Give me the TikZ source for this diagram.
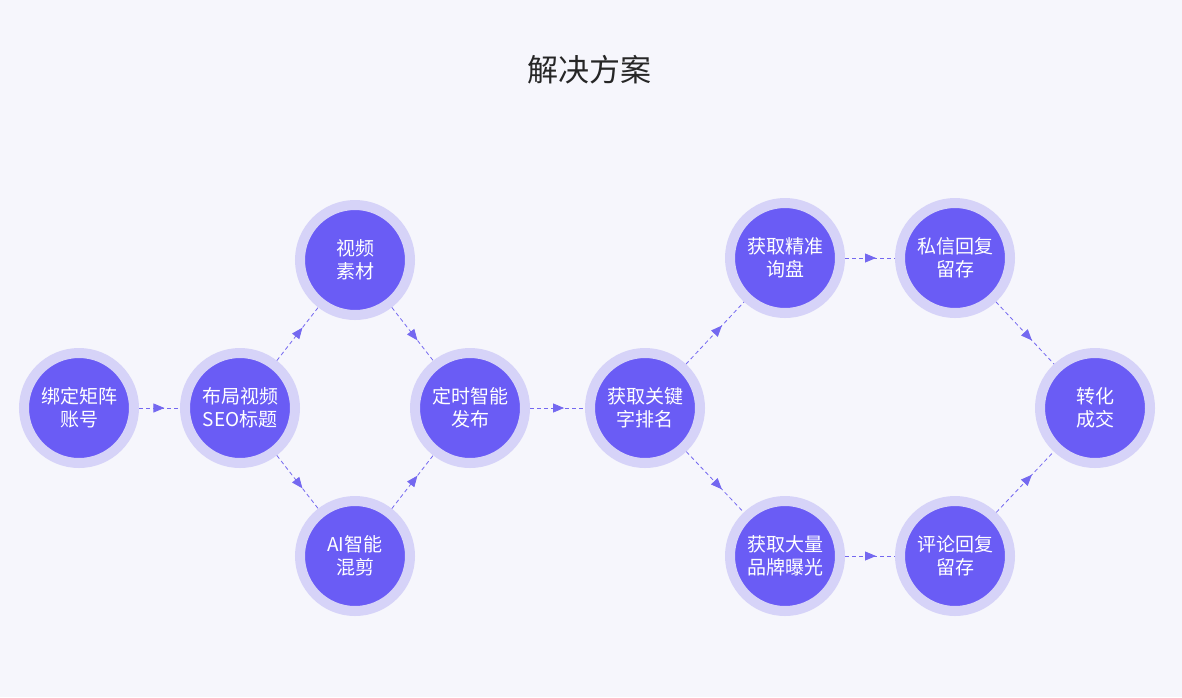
\documentclass[tikz,border=0pt]{standalone}
\usepackage{fontspec}
\setmainfont{Noto Sans CJK SC}
\usetikzlibrary{arrows.meta,decorations.markings}
\definecolor{bg}{HTML}{F6F6FC}
\definecolor{fillc}{HTML}{6A5CF5}
\definecolor{ringc}{HTML}{D6D3F8}
\definecolor{linec}{HTML}{7468F0}
\tikzset{
 stepnode/.style={circle,fill=fillc,draw=ringc,line width=10pt,minimum size=110pt,inner sep=0pt,text=white,font=\fontsize{19}{23}\selectfont,align=center},
 conn/.style={draw=linec,dashed,dash pattern=on 4pt off 3pt,line width=0.8pt,
  postaction={decorate},decoration={markings,mark=at position 0.62 with {\arrow[solid,fill=linec,draw=linec]{Triangle[length=11pt,width=9pt]}}}}
}
\begin{document}
\begin{tikzpicture}[x=1pt,y=-1pt]
\fill[bg] (0,0) rectangle (1182,697);
\useasboundingbox (0,0) rectangle (1182,697);
\node[font=\fontsize{31}{36}\selectfont,text=black!85] (title) at (589,70) {解决方案};
\node[stepnode] (a) at (79,408) {绑定矩阵\\账号};
\node[stepnode] (b) at (240,408) {布局视频\\SEO标题};
\node[stepnode] (c) at (355,260) {视频\\素材};
\node[stepnode] (d) at (355,556) {AI智能\\混剪};
\node[stepnode] (e) at (470,408) {定时智能\\发布};
\node[stepnode] (f) at (645,408) {获取关键\\字排名};
\node[stepnode] (g) at (785,258) {获取精准\\询盘};
\node[stepnode] (h) at (955,258) {私信回复\\留存};
\node[stepnode] (i) at (785,556) {获取大量\\品牌曝光};
\node[stepnode] (j) at (955,556) {评论回复\\留存};
\node[stepnode] (k) at (1095,408) {转化\\成交};
\path[conn] (a) -- (b);
\path[conn] (b) -- (c);
\path[conn] (b) -- (d);
\path[conn] (c) -- (e);
\path[conn] (d) -- (e);
\path[conn] (e) -- (f);
\path[conn] (f) -- (g);
\path[conn] (f) -- (i);
\path[conn] (g) -- (h);
\path[conn] (i) -- (j);
\path[conn] (h) -- (k);
\path[conn] (j) -- (k);
\end{tikzpicture}
\end{document}
